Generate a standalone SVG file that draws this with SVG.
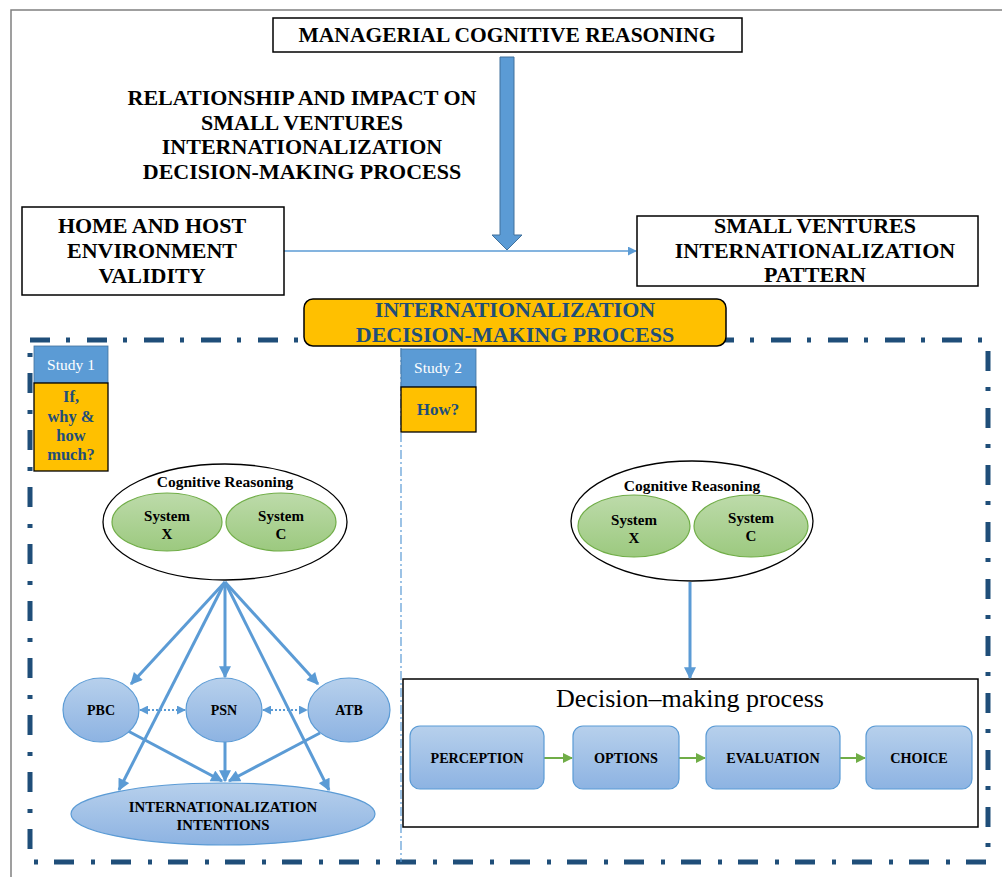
<svg xmlns="http://www.w3.org/2000/svg" width="1002" height="877" viewBox="0 0 1002 877">
<style>
.t{font-family:"Liberation Serif","DejaVu Serif",serif;font-weight:bold;fill:#000;text-anchor:middle}
.box{fill:#fff;stroke:#000;stroke-width:1.5}
.blue{stroke:#5B9BD5;stroke-width:3;fill:none}
.green{fill:url(#gg);stroke:#70AD47;stroke-width:1.2}
.bell{fill:url(#bg);stroke:#5B9BD5;stroke-width:1.2}
</style>
<defs>
<linearGradient id="gg" x1="0" y1="0" x2="0" y2="1"><stop offset="0" stop-color="#BDDBAA"/><stop offset="1" stop-color="#9CC97F"/></linearGradient>
<linearGradient id="bg" x1="0" y1="0" x2="0" y2="1"><stop offset="0" stop-color="#B7D0EC"/><stop offset="1" stop-color="#8DB3E2"/></linearGradient>
<marker id="ab" viewBox="0 0 10 10" refX="9" refY="5" markerWidth="13" markerHeight="12" markerUnits="userSpaceOnUse" orient="auto-start-reverse"><path d="M0,0 L10,5 L0,10 z" fill="#5B9BD5"/></marker>
<marker id="as" viewBox="0 0 10 10" refX="9" refY="5" markerWidth="9" markerHeight="9" markerUnits="userSpaceOnUse" orient="auto-start-reverse"><path d="M0,0 L10,5 L0,10 z" fill="#5B9BD5"/></marker>
<marker id="ag" viewBox="0 0 10 10" refX="9" refY="5" markerWidth="10" markerHeight="10" markerUnits="userSpaceOnUse" orient="auto"><path d="M0,0 L10,5 L0,10 z" fill="#70AD47"/></marker>
</defs>
<rect width="1002" height="877" fill="#fff"/>
<!-- page frame -->
<path d="M11,877 L11,10 L1002,10" fill="none" stroke="#808080" stroke-width="1.5"/>

<!-- dash-dot boundary -->
<rect x="30" y="340" width="958" height="522" fill="none" stroke="#1F4E79" stroke-width="5" stroke-dasharray="20 16 4 17"/>
<line x1="401" y1="348" x2="401" y2="862" stroke="#5B9BD5" stroke-width="1.2" stroke-dasharray="9 3 2 3"/>

<g id="dmp">
<rect x="403" y="679" width="575" height="148" fill="#fff" stroke="#000" stroke-width="1.5"/>
<text x="690" y="707" font-family="Liberation Serif, serif" font-size="26" text-anchor="middle" fill="#000">Decision–making process</text>
</g>

<g id="connectors">
<polygon points="500,57 514,57 514,235 522,235 507,250 492,235 500,235" fill="#5B9BD5" stroke="#41719C" stroke-width="1"/>
<line x1="284" y1="251" x2="636" y2="251" stroke="#5B9BD5" stroke-width="1.3" marker-end="url(#as)"/>
<line x1="225" y1="582" x2="131" y2="684" class="blue" marker-end="url(#ab)"/>
<line x1="225" y1="582" x2="119" y2="790" class="blue" marker-end="url(#ab)"/>
<line x1="225" y1="582" x2="225" y2="677" class="blue" marker-end="url(#ab)"/>
<line x1="225" y1="582" x2="329" y2="790" class="blue" marker-end="url(#ab)"/>
<line x1="225" y1="582" x2="318" y2="684" class="blue" marker-end="url(#ab)"/>
<line x1="128" y1="731" x2="222" y2="781" class="blue" marker-end="url(#ab)"/>
<line x1="225" y1="742" x2="225" y2="781" class="blue" marker-end="url(#ab)"/>
<line x1="320" y1="733" x2="229" y2="781" class="blue" marker-end="url(#ab)"/>
<line x1="140" y1="710" x2="185" y2="710" stroke="#5B9BD5" stroke-width="1.8" stroke-dasharray="2 2" marker-start="url(#as)" marker-end="url(#as)"/>
<line x1="263" y1="710" x2="307" y2="710" stroke="#5B9BD5" stroke-width="1.8" stroke-dasharray="2 2" marker-start="url(#as)" marker-end="url(#as)"/>
<line x1="690" y1="582" x2="690" y2="678" class="blue" marker-end="url(#ab)"/>
<line x1="544" y1="758" x2="572" y2="758" stroke="#70AD47" stroke-width="2" marker-end="url(#ag)"/>
<line x1="679" y1="758" x2="705" y2="758" stroke="#70AD47" stroke-width="2" marker-end="url(#ag)"/>
<line x1="840" y1="758" x2="865" y2="758" stroke="#70AD47" stroke-width="2" marker-end="url(#ag)"/>
</g>

<g id="title">
<rect x="273" y="18" width="469" height="34" class="box"/>
<text x="507" y="42" class="t" font-size="21.5">MANAGERIAL COGNITIVE REASONING</text>
</g>
<g id="relationship-label">
<text class="t" font-size="22"><tspan x="302" y="105">RELATIONSHIP AND IMPACT ON</tspan><tspan x="302" y="130">SMALL VENTURES</tspan><tspan x="302" y="154">INTERNATIONALIZATION</tspan><tspan x="302" y="179">DECISION-MAKING PROCESS</tspan></text>
</g>
<g id="home-host">
<rect x="22" y="207" width="262" height="88" class="box"/>
<text class="t" font-size="22"><tspan x="152" y="233">HOME AND HOST</tspan><tspan x="152" y="258">ENVIRONMENT</tspan><tspan x="152" y="283">VALIDITY</tspan></text>
</g>
<g id="small-ventures">
<rect x="637" y="216" width="341" height="70" class="box"/>
<text class="t" font-size="22"><tspan x="815" y="233">SMALL VENTURES</tspan><tspan x="815" y="258">INTERNATIONALIZATION</tspan><tspan x="815" y="282">PATTERN</tspan></text>
</g>
<g id="idmp">
<rect x="304" y="299" width="422" height="47" rx="9" fill="#FFC000" stroke="#000" stroke-width="1.5"/>
<text class="t" font-size="22" style="fill:#1F4E79"><tspan x="515" y="317">INTERNATIONALIZATION</tspan><tspan x="515" y="342">DECISION-MAKING PROCESS</tspan></text>
</g>

<g id="study1">
<rect x="34" y="346" width="74" height="37" fill="#5B9BD5" stroke="#41719C" stroke-width="0.8"/>
<text x="71" y="370" font-family="Liberation Serif, serif" font-size="15.5" fill="#fff" text-anchor="middle">Study 1</text>
<rect x="34" y="383" width="74" height="88" fill="#FFC000" stroke="#000" stroke-width="1.3"/>
<text class="t" font-size="16.5" style="fill:#1F4E79"><tspan x="71" y="402">If,</tspan><tspan x="71" y="422">why &amp;</tspan><tspan x="71" y="441">how</tspan><tspan x="71" y="460">much?</tspan></text>
</g>
<g id="study2">
<rect x="401" y="349" width="75" height="38" fill="#5B9BD5" stroke="#41719C" stroke-width="0.8"/>
<text x="438" y="373" font-family="Liberation Serif, serif" font-size="15.5" fill="#fff" text-anchor="middle">Study 2</text>
<rect x="401" y="387" width="75" height="45" fill="#FFC000" stroke="#000" stroke-width="1.3"/>
<text x="438" y="415" class="t" font-size="17" style="fill:#1F4E79">How?</text>
</g>

<g id="cog1">
<ellipse cx="225" cy="522" rx="122" ry="58" fill="#fff" stroke="#000" stroke-width="1.3"/>
<text x="225" y="487" class="t" font-size="15.5">Cognitive Reasoning</text>
<ellipse cx="167" cy="522" rx="55" ry="29" class="green"/>
<text class="t" font-size="15"><tspan x="167" y="521">System</tspan><tspan x="167" y="539">X</tspan></text>
<ellipse cx="281" cy="522" rx="55" ry="29" class="green"/>
<text class="t" font-size="15"><tspan x="281" y="521">System</tspan><tspan x="281" y="539">C</tspan></text>
</g>
<g id="pbc"><ellipse cx="101" cy="710" rx="38" ry="32" class="bell"/><text x="101" y="715" class="t" font-size="14">PBC</text></g>
<g id="psn"><ellipse cx="224" cy="710" rx="38" ry="32" class="bell"/><text x="224" y="715" class="t" font-size="14">PSN</text></g>
<g id="atb"><ellipse cx="349" cy="710" rx="41" ry="32" class="bell"/><text x="349" y="715" class="t" font-size="14">ATB</text></g>
<g id="intentions">
<ellipse cx="223" cy="814" rx="152" ry="31" class="bell"/>
<text class="t" font-size="14.8"><tspan x="223" y="812">INTERNATIONALIZATION</tspan><tspan x="223" y="830">INTENTIONS</tspan></text>
</g>

<g id="cog2">
<ellipse cx="692" cy="521" rx="121" ry="60" fill="#fff" stroke="#000" stroke-width="1.3"/>
<text x="692" y="491" class="t" font-size="15.5">Cognitive Reasoning</text>
<ellipse cx="634" cy="526" rx="56" ry="31" class="green"/>
<text class="t" font-size="15"><tspan x="634" y="525">System</tspan><tspan x="634" y="543">X</tspan></text>
<ellipse cx="751" cy="526" rx="57" ry="31" class="green"/>
<text class="t" font-size="15"><tspan x="751" y="523">System</tspan><tspan x="751" y="541">C</tspan></text>
</g>

<g id="perception"><rect x="410" y="726" width="134" height="63" rx="10" class="bell"/><text x="477" y="763" class="t" font-size="14.2">PERCEPTION</text></g>
<g id="options"><rect x="573" y="726" width="106" height="63" rx="10" class="bell"/><text x="626" y="763" class="t" font-size="14.2">OPTIONS</text></g>
<g id="evaluation"><rect x="706" y="726" width="134" height="63" rx="10" class="bell"/><text x="773" y="763" class="t" font-size="14.2">EVALUATION</text></g>
<g id="choice"><rect x="866" y="726" width="106" height="63" rx="10" class="bell"/><text x="919" y="763" class="t" font-size="14.2">CHOICE</text></g>
</svg>
